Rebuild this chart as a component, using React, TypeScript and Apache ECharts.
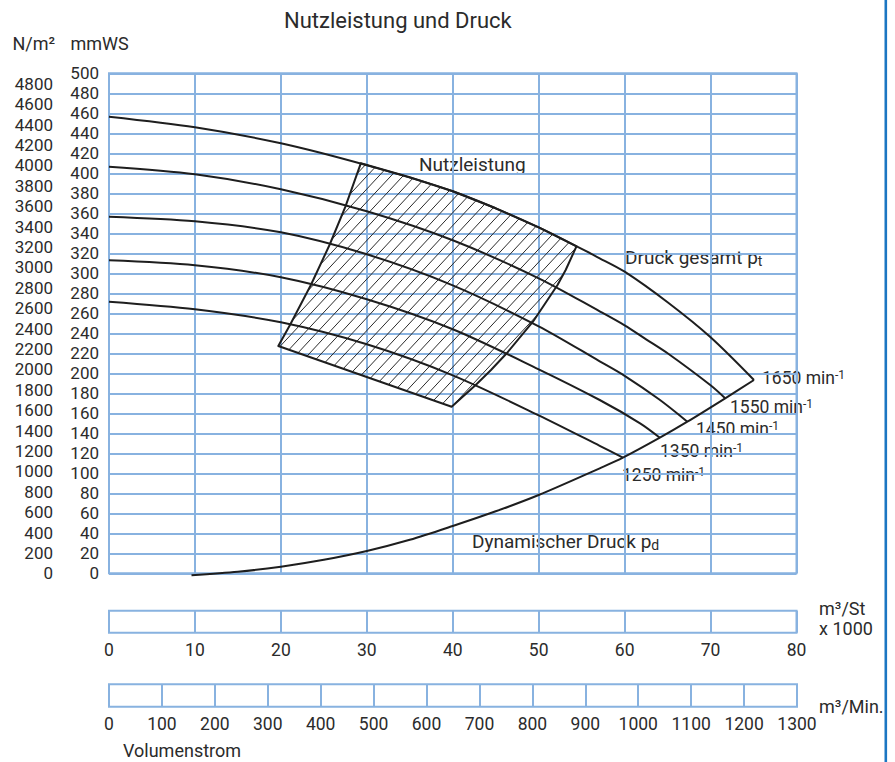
import React, { useEffect, useRef } from 'react';
import * as echarts from 'echarts';

// Volumenstrom in m³/h x 1000, Druck in mmWS
const curve1650 = [[0, 456.6], [10, 446], [20, 430], [30, 408], [40, 382], [50, 346], [57.1, 315], [60, 301.6], [65, 271], [70, 236], [75.05, 193.3]];
const curve1550 = [[0, 406.6], [10, 399], [20, 384], [30, 362], [40, 333], [50, 295], [57.1, 262], [60, 248], [62.5, 234], [65, 220], [70, 188], [71.7, 175]];
const curve1450 = [[0, 356.6], [10, 352], [20, 341], [30, 319], [40, 288], [50, 247], [57.1, 212], [60, 197.5], [64, 174], [67.3, 151.6]];
const curve1350 = [[0, 313], [10, 308], [20, 296], [30, 274], [40, 244], [50, 204], [57.1, 173.3], [61.8, 150], [64.1, 135.6]];
const curve1250 = [[0, 271.6], [10, 264], [20, 251], [30, 229], [40, 198], [50, 158], [57.1, 127.5], [59.8, 115.6]];
const dynamicCurve = [[9.6, -2], [15, 1.5], [20, 6.6], [25, 13.5], [30, 22.3], [35, 33.5], [40, 47.3], [45, 62], [50, 78.3], [57.1, 105], [59.8, 115.6], [64.1, 135.6], [67.3, 151.6], [71.7, 175], [75.05, 193.3]];

// Nutzleistung area (outline)
const nutzTop = [[29.3, 410], [35, 396], [40, 382], [45, 365], [50, 346], [54.4, 327]];
const nutzRight = [[53.14, 303.3], [52.19, 288.3], [49.33, 251.6], [46.28, 220], [44.45, 203.3], [42.67, 188.3], [39.87, 166.6]];
const nutzLeft = [[19.7, 227.3], [21.06, 248.3], [23.49, 288.3], [25.66, 328.3], [27.51, 366.6]];

const speeds = ['1650', '1550', '1450', '1350', '1250'];
const curves = [curve1650, curve1550, curve1450, curve1350, curve1250];

const mmwsMax = 500;
const mmwsStep = 20;
const paStep = 200;
const paPerMmws = 9.80665;
const flowMax = 80;
const flowStep = 10;
const flowMinMax = 1300;
const flowMinStep = 100;

const FONT = 'Roboto, "Open Sans", sans-serif';
const TXT = '#2b2b2b';
const GRIDC = '#88b2e0';
const LINEC = '#1e1e1e';

function hatch(pts: number[][], angleDeg: number, spacing: number) {
  const th = (angleDeg * Math.PI) / 180;
  const nx = Math.sin(th), ny = Math.cos(th);
  const dx = Math.cos(th), dy = -Math.sin(th);
  const proj = pts.map((p) => p[0] * nx + p[1] * ny);
  const cmin = Math.min(...proj), cmax = Math.max(...proj);
  const segs: number[][] = [];
  const n = pts.length;
  for (let c = cmin + spacing * 0.5; c < cmax; c += spacing) {
    const ss: number[] = [];
    for (let i = 0; i < n; i++) {
      const j = (i + 1) % n;
      const pa = proj[i] - c, pb = proj[j] - c;
      if ((pa < 0) !== (pb < 0)) {
        const t = pa / (pa - pb);
        const x = pts[i][0] + t * (pts[j][0] - pts[i][0]);
        const y = pts[i][1] + t * (pts[j][1] - pts[i][1]);
        ss.push(x * dx + y * dy);
      }
    }
    ss.sort((a, b) => a - b);
    for (let k = 0; k + 1 < ss.length; k += 2) {
      const s1 = ss[k], s2 = ss[k + 1];
      segs.push([c * nx + s1 * dx, c * ny + s1 * dy, c * nx + s2 * dx, c * ny + s2 * dy]);
    }
  }
  return segs;
}

function txt(text: string, x: number, y: number, size = 18, extra: any = {}) {
  return {
    type: 'text',
    style: { text, x, y, font: `${size}px ${FONT}`, fill: TXT, align: 'left', verticalAlign: 'middle', ...extra },
  };
}

function richText(main: string, small: string, x: number, y: number, sup: boolean, size: number) {
  return {
    type: 'text',
    style: {
      text: `{b|${main}}{s|${small}}`,
      x, y, align: 'left', verticalAlign: 'middle', fill: TXT,
      rich: {
        b: { fontSize: size, lineHeight: size, fontFamily: FONT, fill: TXT, color: TXT },
        s: sup
          ? { fontSize: 12, lineHeight: 12, fontFamily: FONT, fill: TXT, color: TXT, padding: [0, 0, 6, 0] }
          : { fontSize: 14, lineHeight: 14, fontFamily: FONT, fill: TXT, color: TXT, padding: [8, 0, 0, 0] },
      },
    },
  };
}

export default function App() {
  const ref = useRef<HTMLDivElement>(null);
  useEffect(() => {
    const chart = echarts.init(ref.current!, null, { renderer: 'svg' });
    const splitLine = { show: true, lineStyle: { color: GRIDC, width: 2 } };
    const labelStyle = { fontSize: 17, lineHeight: 17, fontFamily: FONT, color: TXT };
    const nutzPoly = [...nutzTop, ...nutzRight, ...nutzLeft];
    const labelPos = [
      [762, 378], [730, 407], [696, 429], [660, 451], [622, 475],
    ];
    const plain = (v: number) => String(Math.round(v));
    const option: any = {
      animation: false,
      backgroundColor: '#fff',
      grid: [
        { left: 109, top: 73.3, width: 687.5, height: 500, show: true, borderColor: GRIDC, borderWidth: 2 },
        { left: 109, top: 610.7, width: 687.5, height: 22, show: true, borderColor: GRIDC, borderWidth: 2 },
        { left: 109, top: 684.3, width: 688, height: 22.4, show: true, borderColor: GRIDC, borderWidth: 2 },
      ],
      xAxis: [
        { type: 'value', gridIndex: 0, min: 0, max: flowMax, interval: flowStep, axisLine: { show: false }, axisTick: { show: false }, axisLabel: { show: false }, splitLine },
        { type: 'value', gridIndex: 1, min: 0, max: flowMax, interval: flowStep, axisLine: { show: false }, axisTick: { show: false }, axisLabel: { ...labelStyle, fontSize: 17.5, margin: 9, formatter: plain }, splitLine },
        { type: 'value', gridIndex: 2, min: 0, max: flowMinMax, interval: flowMinStep, axisLine: { show: false }, axisTick: { show: false }, axisLabel: { ...labelStyle, fontSize: 17.5, margin: 9, formatter: plain }, splitLine },
      ],
      yAxis: [
        { type: 'value', gridIndex: 0, min: 0, max: mmwsMax, interval: mmwsStep, position: 'left', axisLine: { show: false }, axisTick: { show: false }, axisLabel: { ...labelStyle, margin: 10, formatter: plain }, splitLine },
        {
          type: 'value', gridIndex: 0, min: 0, max: mmwsMax * paPerMmws, interval: paStep, position: 'left',
          axisLine: { show: false }, axisTick: { show: false }, splitLine: { show: false },
          axisLabel: { ...labelStyle, margin: 56, formatter: (v: number) => (Math.abs(v / paStep - Math.round(v / paStep)) < 1e-6 ? String(Math.round(v)) : '') },
        },
        { type: 'value', gridIndex: 1, min: 0, max: 1, show: false },
        { type: 'value', gridIndex: 2, min: 0, max: 1, show: false },
      ],
      series: [
        ...curves.map((c, i) => ({
          type: 'line', name: speeds[i] + ' min-1', xAxisIndex: 0, yAxisIndex: 0, data: c,
          smooth: 0.3, showSymbol: false, symbol: 'none', clip: false,
          lineStyle: { color: LINEC, width: 2 },
        })),
        {
          type: 'line', name: 'Dynamischer Druck', xAxisIndex: 0, yAxisIndex: 0, data: dynamicCurve,
          smooth: 0.3, showSymbol: false, symbol: 'none', clip: false,
          lineStyle: { color: LINEC, width: 2 },
        },
        {
          type: 'custom', name: 'Nutzleistung', xAxisIndex: 0, yAxisIndex: 0, clip: false,
          data: [[0, 0]],
          renderItem: (_p: any, api: any) => {
            const pts = nutzPoly.map((p) => api.coord(p));
            const ang = 47;
            const segs = hatch(pts, ang, 12 * Math.sin((ang * Math.PI) / 180));
            return {
              type: 'group',
              children: [
                ...segs.map((s) => ({ type: 'line', shape: { x1: s[0], y1: s[1], x2: s[2], y2: s[3] }, style: { stroke: '#2a2a2a', lineWidth: 1 } })),
                { type: 'polygon', shape: { points: pts }, style: { fill: 'none', stroke: LINEC, lineWidth: 2, lineJoin: 'round' } },
              ],
            };
          },
        },
      ],
      graphic: [
        { type: 'rect', shape: { x: 884.5, y: 0, width: 2.6, height: 762 }, style: { fill: '#1b76c2' } },
        txt('Nutzleistung und Druck', 284, 20, 22),
        txt('N/m²', 12.5, 43.5, 18),
        txt('mmWS', 70.5, 43.5, 18),
        txt('Nutzleistung', 419, 164, 19),
        richText('Druck gesamt p', 't', 625, 257, false, 19),
        richText('Dynamischer Druck p', 'd', 472, 541, false, 19),
        ...speeds.map((s, i) => richText(`${s} min`, '-1', labelPos[i][0], labelPos[i][1], true, 17.5)),
        txt('m³/St', 819, 608, 18),
        txt('x 1000', 819, 628, 18),
        txt('m³/Min.', 819, 706, 18),
        txt('Volumenstrom', 123, 750, 18),
      ],
    };
    chart.setOption(option);
    return () => chart.dispose();
  }, []);
  return <div ref={ref} style={{ position: 'fixed', left: 0, top: 0, width: 895, height: 762, background: '#fff' }} />;
}
